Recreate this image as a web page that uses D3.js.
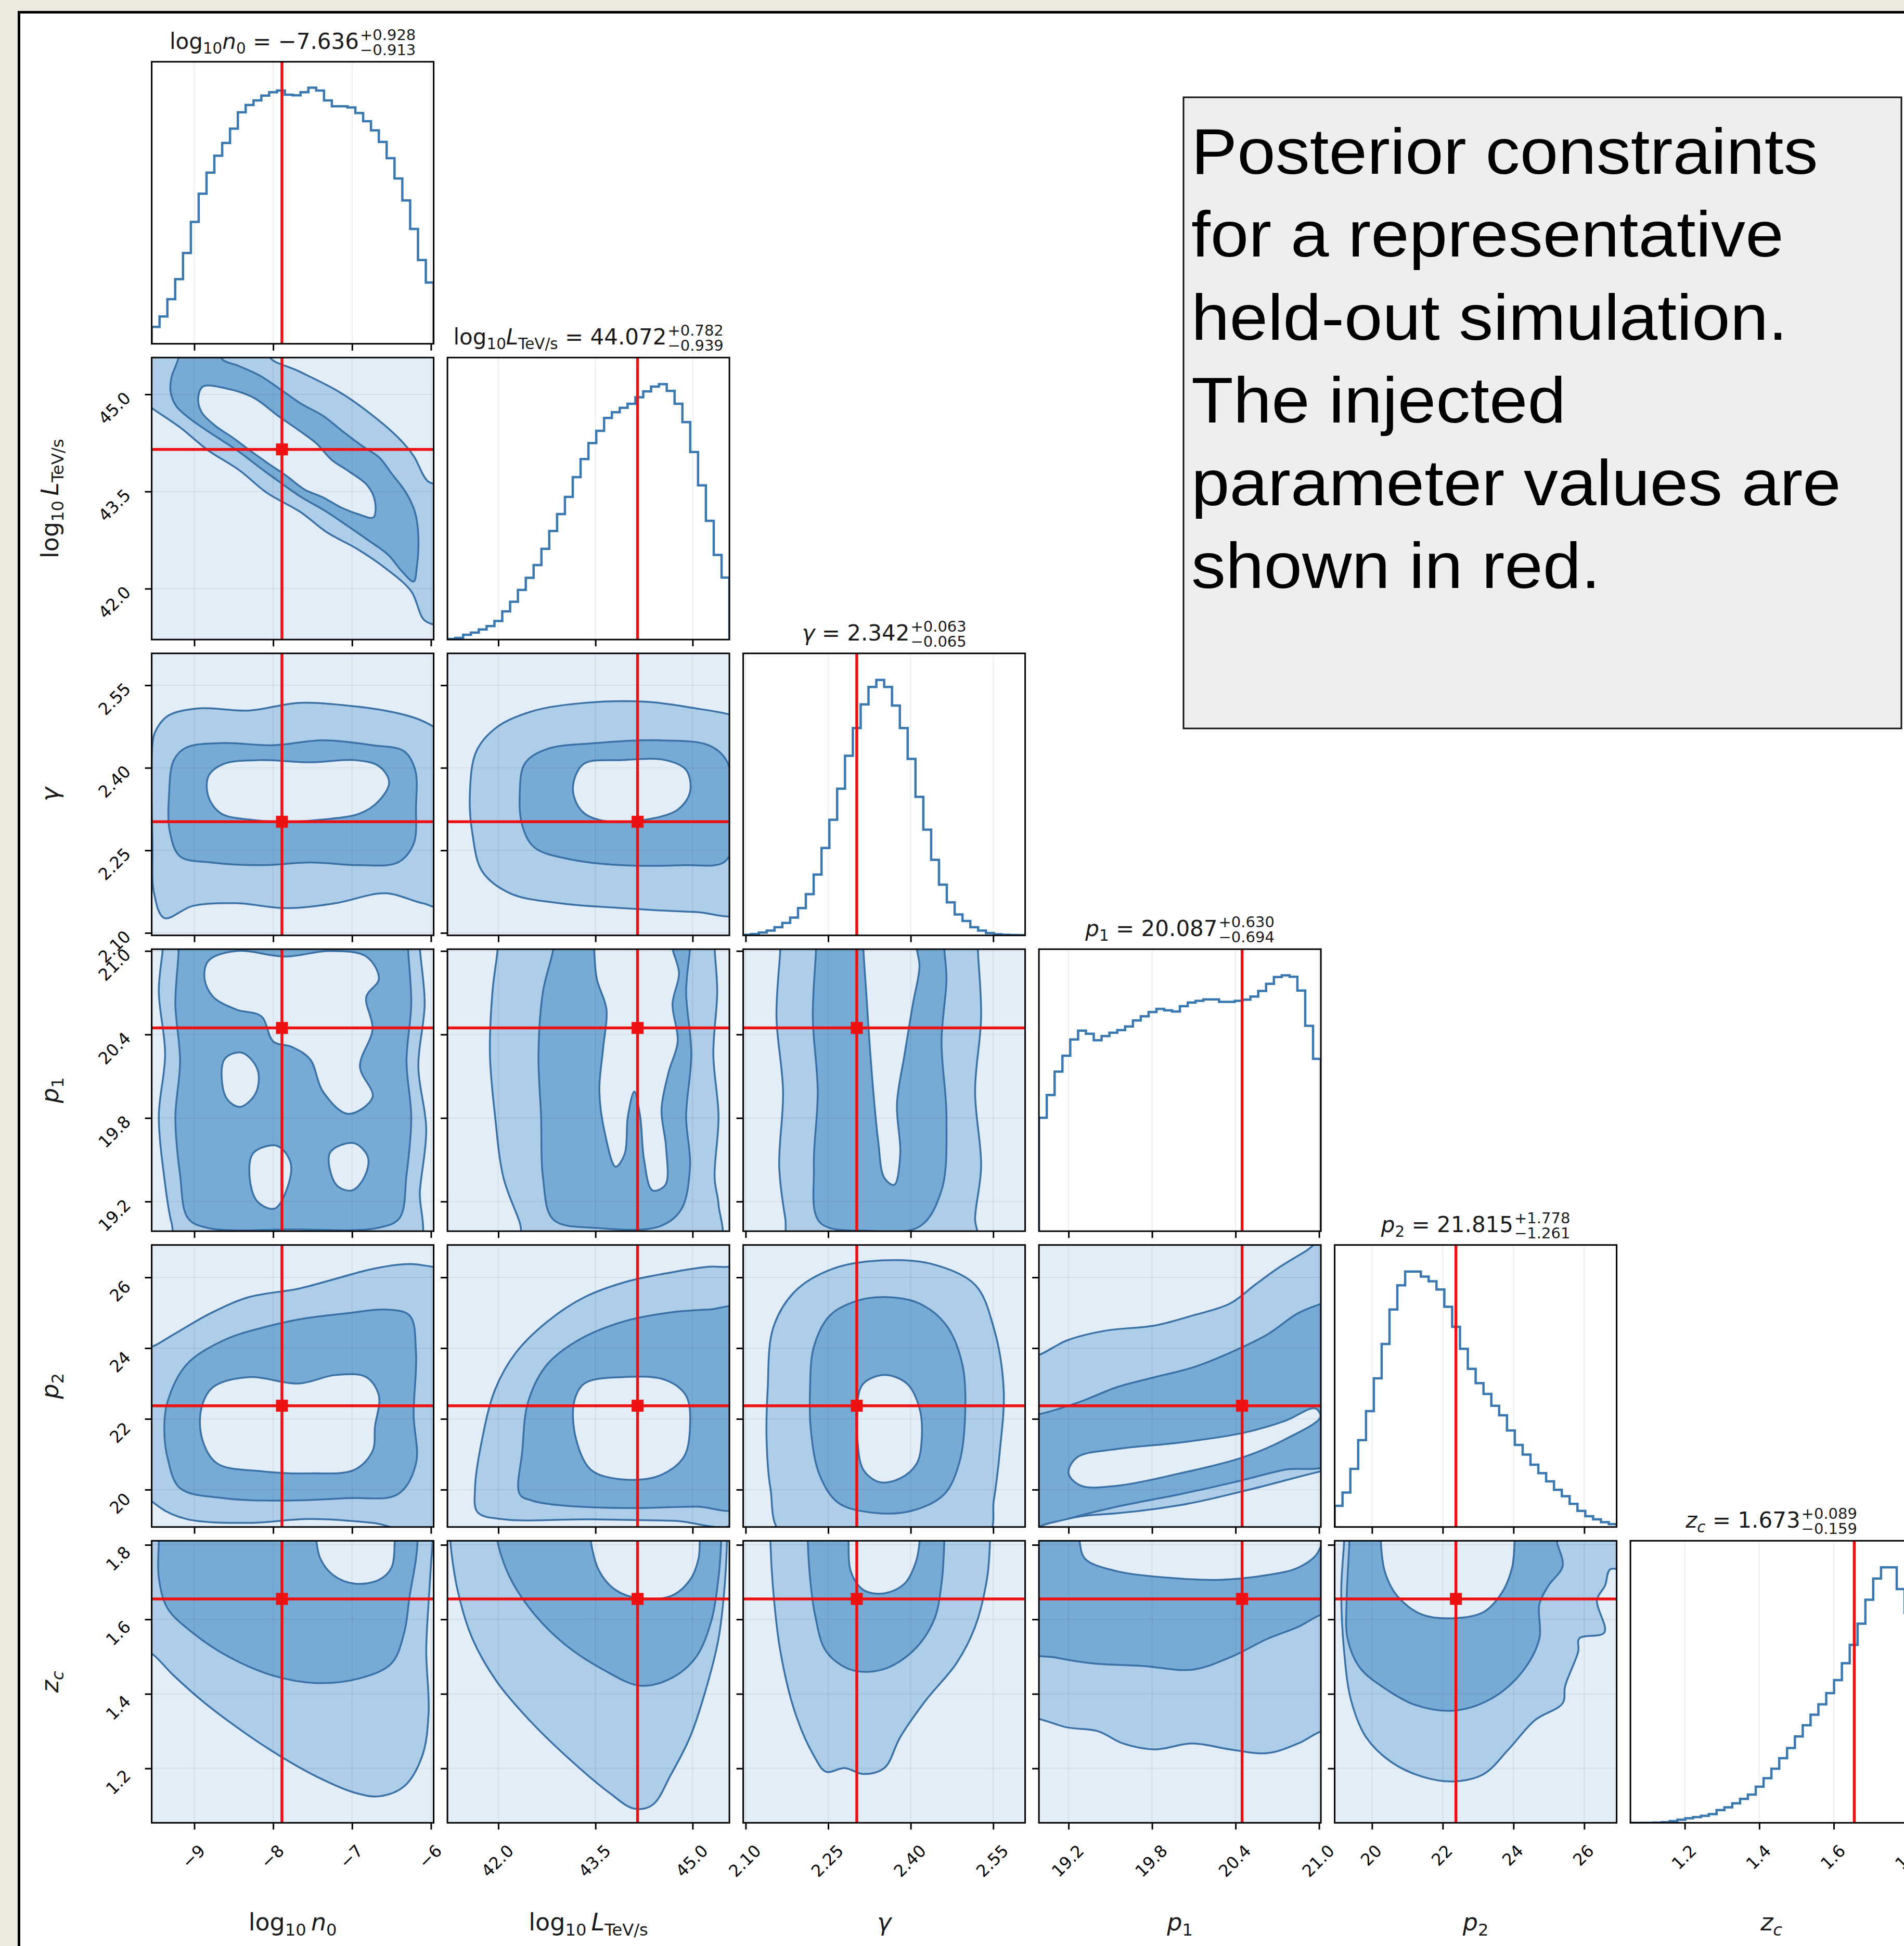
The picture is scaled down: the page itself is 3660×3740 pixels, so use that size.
<!DOCTYPE html>
<html>
<head>
<meta charset="utf-8">
<script src="https://cdn.jsdelivr.net/npm/d3@7"></script>
<style>
  body { margin: 0; background: #ece9df; }
  svg { display: block; }
</style>
</head>
<body>
<div id="chart"></div>
<script>
// ---------------------------------------------------------------
// data
// ---------------------------------------------------------------
const params = ["n0", "L", "gamma", "p1", "p2", "zc"];
const axisRanges = [[-9.54, -5.966], [41.214, 45.568], [2.0955, 2.608], [18.987, 21.013], [18.944, 26.916], [1.054, 1.811]];
const injected = [-7.889, 44.15, 2.302, 20.447, 22.372, 1.655];
const tickValues = [[-9, -8, -7, -6], [42.0, 43.5, 45.0], [2.10, 2.25, 2.40, 2.55], [19.2, 19.8, 20.4, 21.0], [20, 22, 24, 26], [1.2, 1.4, 1.6, 1.8]];
const tickLabels = [["−9", "−8", "−7", "−6"], ["42.0", "43.5", "45.0"], ["2.10", "2.25", "2.40", "2.55"], ["19.2", "19.8", "20.4", "21.0"], ["20", "22", "24", "26"], ["1.2", "1.4", "1.6", "1.8"]];
const medians = ["−7.636", "44.072", "2.342", "20.087", "21.815", "1.673"];
const errPlus = ["+0.928", "+0.782", "+0.063", "+0.630", "+1.778", "+0.089"];
const errMinus = ["−0.913", "−0.939", "−0.065", "−0.694", "−1.261", "−0.159"];

// marginal histograms (36 bins over the axis range, height in % of panel)
const hist_n0 = [6.0, 9.7, 15.8, 22.9, 32.2, 43.2, 53.2, 60.7, 66.7, 71.2, 76.3, 82.1, 84.7, 86.3, 88.0, 89.2, 89.8, 88.3, 88.1, 89.2, 90.8, 89.8, 86.3, 84.2, 84.2, 83.8, 81.8, 78.9, 75.7, 71.6, 65.8, 58.6, 50.8, 40.7, 29.7, 21.7];
const hist_L = [0.2, 0.6, 1.7, 2.5, 3.6, 4.8, 6.6, 10.0, 13.4, 17.6, 21.9, 26.4, 32.2, 38.5, 44.5, 50.6, 57.6, 64.0, 69.7, 74.0, 78.6, 80.6, 82.2, 83.6, 85.9, 88.0, 89.7, 90.6, 88.2, 83.6, 77.1, 66.5, 54.7, 42.1, 30.0, 22.0];
const hist_gamma = [0.2, 0.5, 1.0, 1.7, 2.9, 4.4, 6.3, 9.7, 14.6, 21.6, 31.0, 41.0, 52.0, 63.7, 73.5, 81.9, 88.1, 90.6, 88.1, 81.5, 73.5, 62.6, 49.1, 37.5, 26.8, 18.0, 11.7, 7.4, 5.1, 2.9, 1.7, 0.8, 0.4, 0.2, 0.15, 0.1];
const hist_p1 = [40.2, 48.3, 56.6, 62.2, 68.0, 71.1, 70.0, 67.7, 69.2, 70.4, 71.3, 72.6, 74.7, 76.2, 77.7, 78.8, 78.3, 77.9, 79.8, 81.1, 81.7, 82.2, 82.2, 81.3, 81.3, 81.7, 82.1, 83.2, 85.2, 87.7, 90.1, 90.7, 90.2, 85.3, 72.8, 61.1];
const hist_p2 = [7.5, 12.2, 20.6, 30.8, 41.1, 52.7, 64.9, 77.1, 85.7, 90.6, 90.6, 88.8, 87.1, 84.2, 78.1, 71.0, 63.2, 56.1, 51.0, 47.2, 43.0, 39.6, 34.2, 29.1, 25.7, 22.1, 19.1, 16.2, 13.2, 10.9, 8.2, 5.7, 3.8, 2.7, 1.7, 1.0];
const hist_zc = [0, 0, 0, 0.1, 0.2, 0.6, 1.1, 1.6, 2.0, 2.5, 3.1, 4.5, 5.5, 6.9, 8.5, 10.0, 12.8, 15.8, 19.2, 22.9, 26.5, 30.6, 34.6, 38.3, 42.0, 46.0, 50.6, 56.6, 63.1, 70.6, 79.1, 86.6, 90.6, 90.6, 82.9, 74.5];
const hists = [hist_n0, hist_L, hist_gamma, hist_p1, hist_p2, hist_zc];

// 2D credible contours, [x, y] in parameter units
// outer = outer level, mid = inner level, holes = low-density centre
const c_L_n0 = {
  outer: [[[-9.72, 45.79], [-8.04, 45.79], [-8.04, 45.57], [-7.68, 45.36], [-7.18, 45.05], [-6.82, 44.75], [-6.43, 44.35], [-6.22, 44.05], [-6.04, 43.66], [-5.79, 43.53], [-5.79, 41.48], [-6.07, 41.50], [-6.25, 41.96], [-6.57, 42.31], [-6.93, 42.61], [-7.32, 42.87], [-7.65, 43.18], [-8.08, 43.48], [-8.43, 43.83], [-8.83, 44.14], [-9.18, 44.49], [-9.54, 44.79], [-9.72, 44.96]]],
  mid: [[[-9.20, 45.79], [-9.20, 45.57], [-9.29, 45.26], [-9.30, 45.04], [-9.23, 44.82], [-9.04, 44.61], [-8.74, 44.36], [-8.44, 44.12], [-8.17, 43.87], [-7.90, 43.63], [-7.64, 43.41], [-7.34, 43.20], [-7.07, 42.98], [-6.81, 42.76], [-6.54, 42.52], [-6.37, 42.27], [-6.22, 42.11], [-6.18, 42.33], [-6.16, 42.80], [-6.20, 43.17], [-6.31, 43.47], [-6.50, 43.78], [-6.66, 44.03], [-6.88, 44.21], [-7.11, 44.42], [-7.37, 44.67], [-7.64, 44.85], [-7.90, 45.07], [-8.17, 45.29], [-8.44, 45.44], [-8.65, 45.55], [-8.65, 45.79]]],
  holes: [[[-8.89, 45.12], [-8.59, 45.09], [-8.25, 44.95], [-7.94, 44.67], [-7.68, 44.45], [-7.45, 44.24], [-7.26, 43.99], [-7.04, 43.81], [-6.81, 43.60], [-6.71, 43.35], [-6.73, 43.10], [-6.92, 43.15], [-7.15, 43.26], [-7.37, 43.41], [-7.60, 43.53], [-7.83, 43.74], [-8.06, 43.93], [-8.28, 44.12], [-8.51, 44.33], [-8.74, 44.52], [-8.91, 44.73], [-8.95, 44.95]]]
};
const c_g_n0 = {
  outer: [[[-9.50, 2.464], [-9.34, 2.494], [-8.95, 2.508], [-8.31, 2.504], [-7.68, 2.518], [-7.05, 2.513], [-6.58, 2.504], [-6.19, 2.490], [-5.97, 2.475], [-5.86, 2.464], [-5.86, 2.149], [-6.11, 2.154], [-6.58, 2.172], [-7.21, 2.154], [-7.84, 2.145], [-8.47, 2.154], [-9.02, 2.149], [-9.38, 2.127], [-9.51, 2.172], [-9.53, 2.262], [-9.54, 2.374], [-9.53, 2.443]]],
  mid: [[[-9.26, 2.414], [-9.10, 2.437], [-8.63, 2.445], [-8.00, 2.441], [-7.37, 2.450], [-6.74, 2.441], [-6.34, 2.430], [-6.20, 2.396], [-6.19, 2.329], [-6.22, 2.262], [-6.42, 2.228], [-6.90, 2.223], [-7.53, 2.228], [-8.15, 2.223], [-8.79, 2.228], [-9.18, 2.239], [-9.31, 2.284], [-9.32, 2.351]]],
  holes: [[[-8.82, 2.385], [-8.63, 2.407], [-8.15, 2.414], [-7.53, 2.410], [-6.97, 2.414], [-6.66, 2.403], [-6.53, 2.374], [-6.66, 2.340], [-6.90, 2.317], [-7.37, 2.306], [-7.84, 2.302], [-8.31, 2.306], [-8.66, 2.317], [-8.82, 2.347]]]
};
const c_g_L = {
  outer: [[[41.56, 2.351], [41.66, 2.430], [41.99, 2.475], [42.56, 2.504], [43.33, 2.518], [44.29, 2.520], [45.05, 2.508], [45.57, 2.497], [45.73, 2.490], [45.73, 2.138], [45.05, 2.138], [43.91, 2.145], [42.94, 2.154], [42.18, 2.172], [41.75, 2.212], [41.60, 2.280]]],
  mid: [[[42.33, 2.351], [42.41, 2.408], [42.75, 2.434], [43.52, 2.445], [44.48, 2.450], [45.25, 2.441], [45.52, 2.414], [45.63, 2.351], [45.63, 2.262], [45.48, 2.228], [44.86, 2.223], [43.91, 2.223], [43.14, 2.233], [42.56, 2.255], [42.37, 2.295]]],
  holes: [[[43.17, 2.378], [43.33, 2.408], [43.91, 2.414], [44.58, 2.414], [44.90, 2.396], [44.96, 2.356], [44.77, 2.324], [44.29, 2.306], [43.71, 2.302], [43.33, 2.317], [43.17, 2.347]]]
};
const c_p1_n0 = {
  outer: [[[-9.40, 21.13], [-9.40, 21.02], [-9.45, 20.71], [-9.37, 20.26], [-9.45, 19.81], [-9.38, 19.37], [-9.29, 19.05], [-9.18, 18.88], [-6.18, 18.88], [-6.14, 19.28], [-6.06, 19.72], [-6.16, 20.17], [-6.08, 20.62], [-6.14, 21.02], [-6.14, 21.13]]],
  mid: [[[-9.22, 21.13], [-9.20, 21.02], [-9.24, 20.62], [-9.18, 20.21], [-9.24, 19.80], [-9.18, 19.39], [-9.08, 19.08], [-8.83, 19.01], [-7.75, 19.00], [-6.68, 19.01], [-6.40, 19.08], [-6.31, 19.39], [-6.25, 19.80], [-6.31, 20.21], [-6.25, 20.62], [-6.29, 21.02], [-6.29, 21.13]]],
  holes: [
    [[-8.82, 20.93], [-8.47, 21.00], [-7.84, 20.96], [-7.29, 21.00], [-6.82, 20.96], [-6.66, 20.80], [-6.82, 20.67], [-6.74, 20.44], [-6.90, 20.17], [-6.74, 19.95], [-7.05, 19.83], [-7.37, 19.99], [-7.53, 20.22], [-7.76, 20.31], [-8.00, 20.35], [-8.15, 20.53], [-8.47, 20.58], [-8.76, 20.67], [-8.87, 20.80]],
    [[-8.62, 20.22], [-8.40, 20.27], [-8.20, 20.15], [-8.22, 19.98], [-8.42, 19.88], [-8.60, 19.95]],
    [[-8.25, 19.55], [-7.95, 19.60], [-7.78, 19.48], [-7.82, 19.30], [-7.98, 19.15], [-8.20, 19.20], [-8.30, 19.38]],
    [[-7.28, 19.55], [-6.98, 19.62], [-6.80, 19.52], [-6.84, 19.38], [-7.00, 19.28], [-7.20, 19.32]]
  ]
};
const c_p1_L = {
  outer: [[[41.99, 21.13], [41.99, 21.02], [41.91, 20.71], [41.87, 20.26], [41.95, 19.81], [42.08, 19.37], [42.33, 19.05], [42.44, 18.88], [45.40, 18.88], [45.40, 19.18], [45.34, 19.37], [45.40, 19.81], [45.32, 20.26], [45.38, 20.71], [45.34, 21.02], [45.34, 21.13]]],
  mid: [[[42.85, 21.13], [42.85, 21.02], [42.69, 20.71], [42.62, 20.26], [42.66, 19.81], [42.69, 19.37], [42.85, 19.07], [43.52, 19.01], [44.48, 19.02], [44.82, 19.14], [44.96, 19.45], [44.90, 19.81], [44.98, 20.26], [44.90, 20.71], [44.96, 21.02], [44.96, 21.13]]],
  holes: [[[43.48, 21.13], [43.48, 21.02], [43.52, 20.80], [43.67, 20.58], [43.62, 20.31], [43.56, 19.99], [43.65, 19.68], [43.81, 19.45], [43.95, 19.54], [44.00, 19.81], [44.10, 19.99], [44.19, 19.81], [44.25, 19.50], [44.38, 19.28], [44.58, 19.32], [44.59, 19.59], [44.52, 19.86], [44.63, 20.13], [44.77, 20.35], [44.69, 20.62], [44.79, 20.84], [44.69, 21.02], [44.69, 21.13]]]
};
const c_p1_g = {
  outer: [[[2.163, 21.13], [2.163, 21.02], [2.156, 20.53], [2.168, 19.99], [2.161, 19.45], [2.172, 19.08], [2.182, 18.88], [2.520, 18.88], [2.517, 19.08], [2.528, 19.45], [2.517, 19.99], [2.528, 20.53], [2.522, 21.02], [2.522, 21.13]]],
  mid: [[[2.228, 21.13], [2.228, 21.02], [2.222, 20.53], [2.231, 19.99], [2.224, 19.45], [2.235, 19.05], [2.325, 18.99], [2.416, 19.02], [2.456, 19.28], [2.465, 19.81], [2.456, 20.35], [2.465, 20.80], [2.461, 21.02], [2.461, 21.13]]],
  holes: [[[2.314, 21.13], [2.314, 21.02], [2.319, 20.71], [2.325, 20.35], [2.332, 19.99], [2.341, 19.63], [2.352, 19.37], [2.370, 19.32], [2.381, 19.54], [2.375, 19.90], [2.389, 20.26], [2.404, 20.62], [2.416, 20.89], [2.411, 21.02], [2.411, 21.13]]]
};
const c_p2_n0 = {
  outer: [[[-9.65, 24.04], [-9.54, 24.04], [-9.26, 24.39], [-8.79, 24.99], [-8.31, 25.44], [-7.68, 25.68], [-7.21, 25.96], [-6.74, 26.24], [-6.27, 26.38], [-5.97, 26.30], [-5.86, 26.30], [-5.86, 18.80], [-6.74, 19.06], [-7.53, 19.17], [-8.31, 19.06], [-9.10, 19.17], [-9.45, 19.52], [-9.65, 20.04]]],
  mid: [[[-9.34, 22.48], [-9.10, 23.53], [-8.63, 24.22], [-8.15, 24.57], [-7.60, 24.84], [-7.05, 24.99], [-6.58, 25.09], [-6.27, 24.92], [-6.19, 23.87], [-6.22, 22.13], [-6.19, 20.74], [-6.42, 19.87], [-7.05, 19.76], [-7.84, 19.69], [-8.63, 19.76], [-9.18, 20.04], [-9.34, 20.91], [-9.38, 21.78]]],
  holes: [[[-8.91, 22.30], [-8.76, 22.90], [-8.31, 23.18], [-7.68, 23.00], [-7.21, 23.24], [-6.82, 23.18], [-6.66, 22.65], [-6.71, 21.78], [-6.74, 21.09], [-6.97, 20.56], [-7.53, 20.46], [-8.15, 20.52], [-8.71, 20.74], [-8.90, 21.43]]]
};
const c_p2_L = {
  outer: [[[45.73, 26.38], [45.57, 26.30], [45.25, 26.30], [44.67, 26.14], [44.00, 25.89], [43.33, 25.44], [42.75, 24.74], [42.27, 23.87], [41.95, 22.83], [41.75, 21.43], [41.64, 20.04], [41.68, 19.36], [42.09, 19.16], [43.40, 19.16], [44.70, 19.12], [45.73, 19.12]]],
  mid: [[[42.33, 19.87], [42.37, 21.09], [42.46, 22.48], [42.75, 23.53], [43.23, 24.22], [43.91, 24.74], [44.58, 24.99], [45.25, 25.09], [45.73, 25.09], [45.73, 19.52], [45.05, 19.52], [43.91, 19.48], [42.94, 19.56], [42.52, 19.69]]],
  holes: [[[43.17, 22.48], [43.33, 23.00], [43.91, 23.18], [44.58, 23.10], [44.90, 22.65], [44.96, 21.78], [44.86, 20.91], [44.48, 20.39], [43.91, 20.29], [43.43, 20.56], [43.20, 21.43]]]
};
const c_p2_g = {
  outer: [[[2.140, 22.83], [2.150, 24.57], [2.190, 25.61], [2.258, 26.24], [2.348, 26.48], [2.438, 26.38], [2.517, 25.79], [2.551, 24.57], [2.569, 22.83], [2.562, 21.09], [2.551, 19.69], [2.539, 18.72], [2.168, 18.72], [2.145, 20.04], [2.138, 21.43]]],
  mid: [[[2.217, 22.83], [2.224, 24.04], [2.253, 24.92], [2.303, 25.34], [2.359, 25.44], [2.416, 25.26], [2.465, 24.64], [2.494, 23.53], [2.499, 22.13], [2.488, 20.74], [2.461, 19.87], [2.404, 19.41], [2.336, 19.34], [2.269, 19.62], [2.235, 20.39], [2.219, 21.60]]],
  holes: [[[2.303, 22.48], [2.314, 23.00], [2.352, 23.24], [2.393, 23.00], [2.416, 22.30], [2.420, 21.43], [2.411, 20.74], [2.381, 20.32], [2.344, 20.21], [2.314, 20.56], [2.303, 21.43]]]
};
const c_p2_p1 = {
  outer: [[[18.92, 23.80], [18.98, 23.80], [19.19, 24.22], [19.46, 24.49], [19.82, 24.64], [20.09, 24.92], [20.36, 25.26], [20.54, 25.79], [20.72, 26.30], [20.90, 26.73], [21.09, 27.18], [21.09, 20.55], [21.02, 20.52], [20.54, 20.04], [20.00, 19.56], [19.37, 19.28], [18.92, 19.28]]],
  mid: [[[18.92, 22.13], [18.98, 22.13], [19.28, 22.48], [19.55, 22.90], [19.82, 23.18], [20.09, 23.45], [20.36, 23.87], [20.63, 24.39], [20.85, 24.99], [21.02, 25.26], [21.09, 25.34], [21.09, 20.79], [20.75, 20.56], [20.39, 20.21], [20.00, 19.87], [19.55, 19.52], [19.19, 19.17], [18.98, 18.93], [18.92, 18.64]]],
  holes: [[[19.26, 20.91], [19.55, 21.15], [20.00, 21.33], [20.45, 21.60], [20.76, 21.95], [20.97, 22.30], [21.01, 22.06], [20.76, 21.43], [20.45, 20.91], [20.00, 20.46], [19.55, 20.11], [19.29, 20.11], [19.20, 20.46]]]
};
const c_zc_n0 = {
  outer: [[[-9.65, 1.831], [-5.98, 1.831], [-5.98, 1.808], [-6.00, 1.746], [-6.03, 1.646], [-6.06, 1.515], [-6.03, 1.349], [-6.11, 1.234], [-6.34, 1.152], [-6.66, 1.125], [-6.97, 1.135], [-7.45, 1.178], [-7.92, 1.234], [-8.39, 1.300], [-8.87, 1.376], [-9.26, 1.449], [-9.54, 1.508], [-9.65, 1.515]]],
  mid: [[[-9.45, 1.831], [-9.45, 1.808], [-9.45, 1.712], [-9.34, 1.630], [-9.02, 1.564], [-8.55, 1.498], [-8.00, 1.449], [-7.45, 1.429], [-6.90, 1.442], [-6.50, 1.482], [-6.34, 1.564], [-6.27, 1.663], [-6.19, 1.762], [-6.17, 1.808], [-6.17, 1.831]]],
  holes: [[[-7.45, 1.831], [-7.45, 1.808], [-7.40, 1.762], [-7.24, 1.719], [-6.97, 1.696], [-6.66, 1.706], [-6.50, 1.739], [-6.46, 1.808], [-6.46, 1.831]]]
};
const c_zc_L = {
  outer: [[[41.26, 1.831], [41.26, 1.808], [41.37, 1.679], [41.60, 1.548], [41.98, 1.432], [42.46, 1.333], [43.04, 1.234], [43.71, 1.135], [44.10, 1.092], [44.38, 1.102], [44.67, 1.185], [44.96, 1.284], [45.21, 1.415], [45.40, 1.548], [45.49, 1.679], [45.53, 1.808], [45.53, 1.831]]],
  mid: [[[41.99, 1.831], [41.99, 1.808], [42.18, 1.712], [42.56, 1.613], [43.04, 1.531], [43.62, 1.465], [44.19, 1.422], [44.67, 1.442], [45.05, 1.498], [45.29, 1.597], [45.40, 1.712], [45.44, 1.808], [45.44, 1.831]]],
  holes: [[[43.43, 1.831], [43.43, 1.808], [43.56, 1.729], [43.81, 1.679], [44.19, 1.656], [44.67, 1.663], [44.96, 1.706], [45.09, 1.762], [45.11, 1.808], [45.11, 1.831]]]
};
const c_zc_g = {
  outer: [[[2.145, 1.831], [2.145, 1.808], [2.150, 1.679], [2.163, 1.515], [2.190, 1.349], [2.224, 1.234], [2.246, 1.191], [2.280, 1.201], [2.314, 1.185], [2.352, 1.201], [2.381, 1.284], [2.427, 1.382], [2.483, 1.482], [2.517, 1.580], [2.539, 1.712], [2.544, 1.808], [2.544, 1.831]]],
  mid: [[[2.213, 1.831], [2.213, 1.808], [2.217, 1.712], [2.226, 1.613], [2.246, 1.515], [2.291, 1.465], [2.348, 1.465], [2.404, 1.515], [2.442, 1.597], [2.456, 1.696], [2.461, 1.808], [2.461, 1.831]]],
  holes: [[[2.287, 1.831], [2.287, 1.808], [2.291, 1.729], [2.314, 1.679], [2.352, 1.670], [2.389, 1.696], [2.409, 1.752], [2.416, 1.808], [2.416, 1.831]]]
};
const c_zc_p1 = {
  outer: [[[18.92, 1.831], [21.09, 1.831], [21.09, 1.300], [21.02, 1.300], [20.85, 1.267], [20.63, 1.241], [20.36, 1.251], [20.09, 1.267], [19.82, 1.251], [19.59, 1.267], [19.41, 1.300], [19.19, 1.310], [18.98, 1.333], [18.92, 1.333]]],
  mid: [[[18.92, 1.831], [21.09, 1.831], [21.09, 1.613], [21.02, 1.613], [20.85, 1.580], [20.63, 1.548], [20.36, 1.498], [20.09, 1.465], [19.73, 1.475], [19.37, 1.482], [19.10, 1.498], [18.92, 1.515]]],
  holes: [[[19.28, 1.831], [19.28, 1.808], [19.32, 1.762], [19.55, 1.729], [19.91, 1.712], [20.27, 1.706], [20.63, 1.719], [20.85, 1.739], [20.99, 1.779], [21.01, 1.831]]]
};
const c_zc_p2 = {
  outer: [[[19.21, 1.831], [19.21, 1.808], [19.13, 1.679], [19.21, 1.515], [19.41, 1.382], [19.83, 1.284], [20.53, 1.218], [21.41, 1.178], [22.29, 1.165], [23.16, 1.185], [23.86, 1.251], [24.60, 1.329], [25.39, 1.375], [25.46, 1.421], [25.83, 1.514], [25.86, 1.549], [26.57, 1.565], [26.36, 1.652], [26.59, 1.691], [26.73, 1.734], [27.18, 1.737], [27.18, 1.831]]],
  mid: [[[19.36, 1.831], [19.36, 1.808], [19.28, 1.646], [19.31, 1.548], [19.66, 1.470], [20.36, 1.415], [21.23, 1.370], [22.29, 1.355], [23.33, 1.385], [24.21, 1.455], [24.73, 1.548], [24.73, 1.640], [24.99, 1.691], [25.39, 1.743], [25.23, 1.808], [25.23, 1.831]]],
  holes: [[[20.25, 1.831], [20.25, 1.808], [20.36, 1.729], [20.71, 1.663], [21.41, 1.613], [22.29, 1.603], [23.16, 1.620], [23.68, 1.673], [23.96, 1.739], [24.03, 1.808], [24.03, 1.831]]]
};
const contours = {
  "1-0": c_L_n0,
  "2-0": c_g_n0, "2-1": c_g_L,
  "3-0": c_p1_n0, "3-1": c_p1_L, "3-2": c_p1_g,
  "4-0": c_p2_n0, "4-1": c_p2_L, "4-2": c_p2_g, "4-3": c_p2_p1,
  "5-0": c_zc_n0, "5-1": c_zc_L, "5-2": c_zc_g, "5-3": c_zc_p1, "5-4": c_zc_p2
};

// axis label pieces (sub = subscript, it = italic)
const labelParts = [
  [{ t: "log" }, { t: "10", sub: 1 }, { t: "\u2009" }, { t: "n", it: 1 }, { t: "0", sub: 1 }],
  [{ t: "log" }, { t: "10", sub: 1 }, { t: "\u2009" }, { t: "L", it: 1 }, { t: "TeV/s", sub: 1 }],
  [{ t: "γ", it: 1 }],
  [{ t: "p", it: 1 }, { t: "1", sub: 1 }],
  [{ t: "p", it: 1 }, { t: "2", sub: 1 }],
  [{ t: "z", it: 1 }, { t: "c", sub: 1, it: 1 }]
];

const noteLines = ["Posterior constraints", "for a representative", "held-out simulation.", "The injected", "parameter values are", "shown in red."];

// ---------------------------------------------------------------
// layout + colours
// ---------------------------------------------------------------
const W = 3660, H = 3740;
const ox = 291.6, oy = 118.7, step = 568.5, size = 542;
const colX = j => ox + j * step;
const rowY = i => oy + i * step;
const tickFont = 32;

const light = "#e3edf8", midC = "#aecde9", darkC = "#77aad5", lineC = "#3a72a8";
const red = "#ee1111", histC = "#3a78b2";

const svg = d3.select("#chart").append("svg")
  .attr("width", W).attr("height", H)
  .style("font-family", "'DejaVu Sans', sans-serif");

svg.append("rect").attr("width", W).attr("height", H).attr("fill", "#ece9df");
svg.append("rect")
  .attr("x", 36.5).attr("y", 23.5).attr("width", W + 100).attr("height", H + 100)
  .attr("fill", "#fff").attr("stroke", "#000").attr("stroke-width", 5);

//-------------------------------------------------------------------
/**
 * write a mathtext-like label into parent, returns the text selection
 */
function addMath(parent, parts, fs) {
  const t = parent.append("text").attr("font-size", fs).attr("fill", "#1a1a1a");
  let shift = 0;
  parts.forEach(p => {
    const off = p.sub ? 0.22 * fs : 0;
    const ts = t.append("tspan").attr("dy", off - shift).text(p.t);
    shift = off;
    if (p.sub) ts.attr("font-size", fs * 0.7);
    if (p.it) ts.attr("font-style", "italic");
  });
  return t;
}

const ring = (x, y) => d3.line()
  .x(d => x(d[0])).y(d => y(d[1]))
  .curve(d3.curveCatmullRomClosed.alpha(0.5));

function styleAxis(ax) {
  ax.attr("font-family", "'DejaVu Sans', sans-serif").attr("font-size", tickFont);
  ax.select(".domain").remove();
  ax.selectAll(".tick line").attr("stroke", "#000").attr("stroke-width", 3);
  ax.selectAll(".tick text").attr("fill", "#000");
}

//-------------------------------------------------------------------
// panels
for (let i = 0; i < 6; i++) {
  for (let j = 0; j <= i; j++) {
    const g = svg.append("g").attr("transform", `translate(${colX(j)},${rowY(i)})`);
    const x = d3.scaleLinear().domain(axisRanges[j]).range([0, size]);
    const clipId = `clip-${i}-${j}`;
    g.append("clipPath").attr("id", clipId).append("rect").attr("width", size).attr("height", size);
    const inner = g.append("g").attr("clip-path", `url(#${clipId})`);

    if (i === j) {
      // marginal histogram
      const y = d3.scaleLinear().domain([0, 100]).range([size, 0]);
      inner.append("rect").attr("width", size).attr("height", size).attr("fill", "#fff");
      inner.selectAll(".grid").data(tickValues[j]).enter().append("line")
        .attr("x1", d => x(d)).attr("x2", d => x(d)).attr("y1", 0).attr("y2", size)
        .attr("stroke", "#000").attr("stroke-opacity", 0.07).attr("stroke-width", 2);
      const counts = hists[j];
      const [lo, hi] = axisRanges[j];
      const bw = (hi - lo) / counts.length;
      const pts = [[lo, 0]];
      counts.forEach((c, k) => { pts.push([lo + k * bw, c]); pts.push([lo + (k + 1) * bw, c]); });
      pts.push([hi, 0]);
      inner.append("path")
        .attr("d", d3.line().x(d => x(d[0])).y(d => y(d[1]))(pts))
        .attr("fill", "none").attr("stroke", histC).attr("stroke-width", 4.5);
      inner.append("line")
        .attr("x1", x(injected[j])).attr("x2", x(injected[j])).attr("y1", 0).attr("y2", size)
        .attr("stroke", red).attr("stroke-width", 5.5);
    } else {
      const y = d3.scaleLinear().domain(axisRanges[i]).range([size, 0]);
      inner.append("rect").attr("width", size).attr("height", size).attr("fill", light);
      const c = contours[`${i}-${j}`];
      const path = ring(x, y);
      c.outer.forEach(r => inner.append("path").attr("d", path(r))
        .attr("fill", midC).attr("stroke", lineC).attr("stroke-width", 3.5));
      c.mid.forEach(r => inner.append("path").attr("d", path(r))
        .attr("fill", darkC).attr("stroke", lineC).attr("stroke-width", 3.5));
      c.holes.forEach(r => inner.append("path").attr("d", path(r))
        .attr("fill", light).attr("stroke", lineC).attr("stroke-width", 3.5));
      // grid
      inner.selectAll(".gx").data(tickValues[j]).enter().append("line")
        .attr("x1", d => x(d)).attr("x2", d => x(d)).attr("y1", 0).attr("y2", size)
        .attr("stroke", "#000").attr("stroke-opacity", 0.06).attr("stroke-width", 2);
      inner.selectAll(".gy").data(tickValues[i]).enter().append("line")
        .attr("y1", d => y(d)).attr("y2", d => y(d)).attr("x1", 0).attr("x2", size)
        .attr("stroke", "#000").attr("stroke-opacity", 0.06).attr("stroke-width", 2);
      // injected values
      inner.append("line")
        .attr("x1", x(injected[j])).attr("x2", x(injected[j])).attr("y1", 0).attr("y2", size)
        .attr("stroke", red).attr("stroke-width", 5.5);
      inner.append("line")
        .attr("y1", y(injected[i])).attr("y2", y(injected[i])).attr("x1", 0).attr("x2", size)
        .attr("stroke", red).attr("stroke-width", 5.5);
      g.append("rect")
        .attr("x", x(injected[j]) - 11.5).attr("y", y(injected[i]) - 11.5)
        .attr("width", 23).attr("height", 23).attr("fill", red);

      // left axis
      const ay = g.append("g").call(d3.axisLeft(y).tickValues(tickValues[i]).tickSize(13)
        .tickFormat((d, k) => j === 0 ? tickLabels[i][k] : ""));
      styleAxis(ay);
      if (j === 0) {
        ay.selectAll(".tick text")
          .attr("x", null).attr("dy", null)
          .attr("text-anchor", "middle").attr("dominant-baseline", "central")
          .attr("transform", function () {
            const c2 = (this.getComputedTextLength() + tickFont * 0.72) * 0.3536;
            return `translate(${-(38 + c2)},26) rotate(-45)`;
          });
      }
    }

    // frame
    g.append("rect").attr("width", size).attr("height", size)
      .attr("fill", "none").attr("stroke", "#000").attr("stroke-width", 3);

    // bottom axis
    const ax = g.append("g").attr("transform", `translate(0,${size})`)
      .call(d3.axisBottom(x).tickValues(tickValues[j]).tickSize(13)
        .tickFormat((d, k) => i === 5 ? tickLabels[j][k] : ""));
    styleAxis(ax);
    if (i === 5) {
      ax.selectAll(".tick text")
        .attr("y", null).attr("dy", null)
        .attr("text-anchor", "middle").attr("dominant-baseline", "central")
        .attr("transform", function () {
          const c2 = (this.getComputedTextLength() + tickFont * 0.72) * 0.3536;
          return `translate(-2,${40 + c2}) rotate(-45)`;
        });
    }
  }
}

//-------------------------------------------------------------------
// titles over the marginals
for (let k = 0; k < 6; k++) {
  const tg = svg.append("g");
  const parts = labelParts[k].filter(p => p.t !== "\u2009").concat([{ t: " = " + medians[k] }]);
  const main = addMath(tg, parts, 42);
  const mw = main.node().getComputedTextLength();
  const sup = tg.append("text").attr("x", mw + 2).attr("y", -17)
    .attr("font-size", 29).attr("fill", "#1a1a1a").text(errPlus[k]);
  const sub = tg.append("text").attr("x", mw + 2).attr("y", 12)
    .attr("font-size", 29).attr("fill", "#1a1a1a").text(errMinus[k]);
  const tw = mw + 2 + Math.max(sup.node().getComputedTextLength(), sub.node().getComputedTextLength());
  tg.attr("transform", `translate(${colX(k) + size / 2 - tw / 2},${rowY(k) - 25})`);
}

// axis labels
for (let k = 0; k < 6; k++) {
  addMath(svg, labelParts[k], 46)
    .attr("text-anchor", "middle")
    .attr("transform", `translate(${colX(k) + size / 2},3710)`);
  if (k > 0) {
    addMath(svg, labelParts[k], 46)
      .attr("text-anchor", "middle")
      .attr("transform", `translate(112,${rowY(k) + size / 2}) rotate(-90)`);
  }
}

//-------------------------------------------------------------------
// caption box
svg.append("rect")
  .attr("x", 2275).attr("y", 187).attr("width", 1380).attr("height", 1213)
  .attr("fill", "#eeeeee").attr("stroke", "#111").attr("stroke-width", 3);
const note = svg.append("g").attr("transform", "translate(2290,0) scale(1.066,1)");
noteLines.forEach((s, k) => {
  note.append("text")
    .attr("x", 0).attr("y", 334 + k * 159.3)
    .attr("font-family", "'Liberation Sans', Arial, sans-serif")
    .attr("font-size", 124).attr("fill", "#000")
    .text(s);
});
</script>
</body>
</html>
